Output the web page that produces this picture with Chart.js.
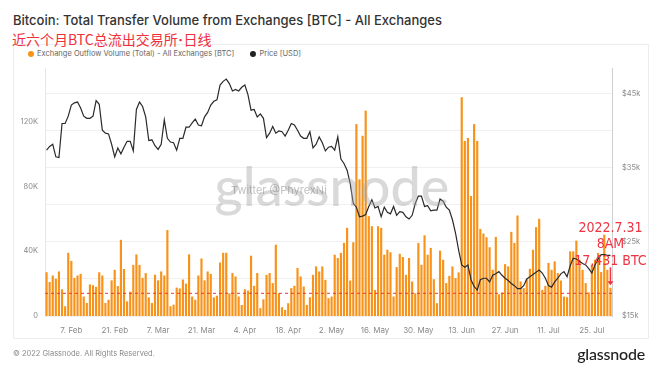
<!DOCTYPE html>
<html>
<head>
<meta charset="utf-8">
<script src="https://cdn.jsdelivr.net/npm/chart.js@4.4.0/dist/chart.umd.min.js"></script>
<style>
  html, body { margin:0; padding:0; background:#fff; }
  body { width:660px; height:372px; position:relative; overflow:hidden; font-family:Inter, Roboto, sans-serif; }
  #frame { position:absolute; left:13px; top:44px; width:634px; height:293px; border:1px solid #ededed; }
  #title { position:absolute; left:13px; top:12px; font-size:13px; font-weight:500; color:#333; white-space:nowrap; }
  #sub { position:absolute; left:12px; top:29px; font-family:'Noto Sans CJK SC', sans-serif; font-size:14px; color:#ee2f3c; white-space:nowrap; }
  #sub .dot { font-family:Inter, sans-serif; font-weight:700; margin:0 0.5px; }
  #legend { position:absolute; left:28px; top:49px; font-size:7.5px; color:#666; white-space:nowrap; }
  #legend span.dot { display:inline-block; width:6px; height:6px; border-radius:50%; margin-right:3px; vertical-align:-0.5px; }
  #legend .item { margin-right:14px; }
  #foot { position:absolute; left:13px; top:349px; font-size:7.5px; color:#8a8a8a; }
  #logo { position:absolute; right:15px; top:344px; font-family:Lato, Inter, sans-serif; font-size:16px; font-weight:500; color:#222; letter-spacing:-0.2px; }
  canvas { position:absolute; left:0; top:0; }
</style>
</head>
<body>
<div id="frame"></div>
<div id="title">Bitcoin: Total Transfer Volume from Exchanges [BTC] - All Exchanges</div>
<div id="sub">近六个月BTC总流出交易所<span class="dot">·</span>日线</div>
<div id="legend">
  <span class="item"><span class="dot" style="background:#f7931a"></span>Exchange Outflow Volume (Total) - All Exchanges [BTC]</span>
  <span class="item"><span class="dot" style="background:#222"></span>Price [USD]</span>
</div>
<canvas id="c" width="660" height="372"></canvas>
<div id="foot">© 2022 Glassnode. All Rights Reserved.</div>
<div id="logo">glassnode</div>
<script>
// ─── Data (daily, 30 Jan – 31 Jul 2022) ──────────────────────────────────────

// Exchange outflow volume, thousands of BTC
const outflowK = [
  27, 21, 25, 23, 27.5, 16.5, 6, 39, 34, 23.5, 25, 26, 12, 8, 19.5, 19, 18, 27, 25, 8,
  10, 22, 28.5, 18.5, 47, 29, 9, 15, 31.5, 38, 31.5, 23.5, 26.5, 11.5, 8, 25.5, 22, 27.5, 25, 53,
  6, 7, 17.5, 17, 22.5, 20, 38, 12, 10, 25, 35.5, 22, 27.5, 26, 11.5, 12.5, 33, 39, 39, 14,
  26.5, 24.4, 12, 6.8, 16.5, 15.7, 37.2, 18.6, 26.5, 4.8, 10.3, 25.4, 26.5, 20.3, 44, 14, 5.4, 3.7, 7.9, 17.2,
  18.6, 29.6, 24.4, 18.2, 6.8, 11.6, 25.4, 30.6, 27.5, 30.6, 22.3, 11, 12, 37.8, 35.8, 38.9, 45.1, 54.4, 21.9, 45.5,
  118.4, 84.3, 111.2, 126.7, 61.6, 55.4, 16.1, 55.4, 54.4, 37.8, 40.9, 39.3, 12, 30.2, 38.4, 36.4, 25.4, 35.8, 21.3, 14,
  45.1, 31.6, 49.8, 37.8, 42, 22.7, 7.9, 40.3, 34.7, 20.3, 24.8, 30.6, 23.4, 26.9, 135, 108, 109.8, 74, 118.4, 108,
  53.7, 50.9, 48.6, 42.4, 28.5, 48.8, 13.4, 14.5, 32, 30.6, 51.9, 45.1, 62, 21.3, 17.2, 22.7, 29.1, 40.9, 54.8, 60,
  16.1, 18.6, 32.7, 28.5, 33.7, 26.5, 21.9, 12, 11.6, 39.9, 39.9, 46.5, 34.7, 28.5, 20.3, 14.5, 31.6, 34.7, 38.9, 27.1,
  50.2, 28.5, 17.4
];

// BTC price, thousands of USD
const priceK = [
  37.4, 37.9, 38.2, 36.5, 36.4, 41.0, 41.0, 42.0, 43.5, 43.8, 43.9, 43.1, 42.0, 41.7, 41.7, 42.0, 44.1, 43.6, 40.1, 39.7,
  39.6, 38.2, 36.5, 37.7, 36.9, 37.8, 38.6, 38.6, 37.3, 42.9, 43.9, 43.3, 41.9, 38.7, 38.8, 38.0, 37.5, 38.2, 41.5, 39.0,
  38.5, 38.4, 37.4, 39.0, 39.0, 40.5, 40.5, 41.1, 41.6, 40.8, 40.7, 41.9, 42.5, 43.5, 44.0, 44.2, 46.2, 46.7, 47.0, 46.4,
  45.4, 45.6, 45.4, 45.9, 46.2, 44.9, 42.8, 42.9, 41.9, 42.3, 41.7, 39.1, 39.7, 40.6, 39.7, 40.0, 39.9, 39.3, 40.1, 41.0,
  40.8, 40.1, 39.3, 39.0, 39.0, 39.9, 37.7, 38.2, 39.2, 38.4, 37.3, 37.8, 37.9, 37.4, 39.2, 36.2, 35.6, 34.7, 32.9, 30.2,
  29.7, 28.4, 28.5, 28.7, 29.8, 30.7, 29.6, 29.8, 28.4, 29.7, 29.0, 28.8, 29.8, 28.6, 29.1, 29.0, 28.4, 28.1, 28.6, 30.2,
  31.2, 31.2, 29.8, 29.9, 29.2, 29.3, 29.3, 30.8, 30.5, 29.7, 29.3, 28.0, 26.2, 23.9, 21.9, 21.6, 21.9, 19.9, 19.0, 18.5,
  19.9, 20.1, 20.1, 19.6, 20.5, 20.7, 21.0, 20.5, 20.1, 19.8, 19.4, 19.1, 18.7, 18.7, 19.1, 20.0, 20.3, 20.6, 20.9, 21.2,
  20.8, 20.1, 19.1, 18.9, 19.6, 20.1, 20.7, 21.0, 20.3, 21.8, 22.8, 22.7, 22.4, 22.1, 21.9, 21.4, 20.8, 21.9, 22.7, 23.3,
  23.3, 23.2, 23.2
];

const xTickLabels  = ['7. Feb','21. Feb','7. Mar','21. Mar','4. Apr','18. Apr','2. May','16. May','30. May','13. Jun','27. Jun','11. Jul','25. Jul'];
const leftTicks    = [0, 40, 80, 120];
const rightGrid    = [15, 20, 25, 30, 35, 40, 45];
const rightLabels  = [15, 25, 35, 45];

const refLineK     = 14;          // red dashed reference level
const noteLines    = ['2022.7.31', '8AM', '17,431 BTC'];
const arrowFromK   = 30;
const arrowToK     = 19;

// day labels, "7. Feb" style
const MON = ['Jan','Feb','Mar','Apr','May','Jun','Jul','Aug','Sep','Oct','Nov','Dec'];
const days = [];
for (let i = 0; i < outflowK.length; i++) {
  const d = new Date(Date.UTC(2022, 0, 30 + i));
  days.push(d.getUTCDate() + '. ' + MON[d.getUTCMonth()]);
}

const ORANGE = '#f7931a';
const RED    = '#ee3342';
const TICK   = { size: 7.5, family: "Inter, Roboto, sans-serif" };

const overlays = {
  id: 'overlays',
  afterDatasetsDraw(chart) {
    const { ctx, chartArea: a, scales } = chart;
    // watermark
    ctx.save();
    ctx.fillStyle = 'rgba(165,165,165,0.42)';
    ctx.font = '500 54px Lato, Inter, sans-serif';
    ctx.textAlign = 'center';
    ctx.textBaseline = 'alphabetic';
    ctx.fillText('glassnode', 332, 206);
    ctx.font = '11px Inter, Roboto, sans-serif';
    ctx.fillStyle = 'rgba(120,120,120,0.45)';
    ctx.textAlign = 'left';
    ctx.fillText('Twitter @PhyrexNi', 231, 194);
    ctx.restore();

    // dashed reference line
    const yRef = scales.y.getPixelForValue(refLineK);
    ctx.save();
    ctx.strokeStyle = RED;
    ctx.lineWidth = 1;
    ctx.setLineDash([3, 3]);
    ctx.beginPath();
    ctx.moveTo(a.left, yRef);
    ctx.lineTo(a.right, yRef);
    ctx.stroke();
    ctx.restore();

    // arrow + note on the last day
    const last = outflowK.length - 1;
    const xl = scales.x.getPixelForValue(last);
    const y0 = scales.y.getPixelForValue(arrowFromK);
    const y1 = scales.y.getPixelForValue(arrowToK);
    ctx.save();
    ctx.strokeStyle = RED;
    ctx.fillStyle = RED;
    ctx.lineWidth = 1.5;
    ctx.beginPath();
    ctx.moveTo(xl, y0);
    ctx.lineTo(xl, y1 - 3);
    ctx.stroke();
    ctx.beginPath();
    ctx.moveTo(xl - 3, y1 - 4);
    ctx.lineTo(xl + 3, y1 - 4);
    ctx.lineTo(xl, y1);
    ctx.closePath();
    ctx.fill();

    ctx.font = "14px 'Liberation Sans Narrow', 'DejaVu Sans Condensed', sans-serif";
    ctx.textAlign = 'center';
    ctx.textBaseline = 'middle';
    const ys = [228, 244, 261];
    noteLines.forEach((t, i) => ctx.fillText(t, xl, ys[i]));
    ctx.restore();
  }
};

new Chart(document.getElementById('c'), {
  data: {
    labels: days,
    datasets: [
      {
        type: 'line', label: 'Price [USD]', data: priceK, yAxisID: 'y1',
        borderColor: '#2a2a2a', borderWidth: 1.2, pointRadius: 0, tension: 0, order: 0
      },
      {
        type: 'bar', label: 'Exchange Outflow Volume (Total) - All Exchanges [BTC]', data: outflowK, yAxisID: 'y',
        backgroundColor: ORANGE, barPercentage: 0.7, categoryPercentage: 1, order: 1
      }
    ]
  },
  options: {
    responsive: false,
    animation: false,
    devicePixelRatio: 1,
    layout: { padding: { top: 68, left: 0, right: 0, bottom: 0 } },
    plugins: { legend: { display: false }, tooltip: { enabled: false } },
    scales: {
      x: {
        type: 'category', offset: true,
        grid: { display: false, drawTicks: false }, border: { display: false },
        ticks: {
          autoSkip: false, maxRotation: 0, padding: 10, color: '#8a8a8a', font: { ...TICK, size: 8 },
          callback(v) { const l = this.getLabelForValue(v); return xTickLabels.includes(l) ? l : null; }
        },
        afterFit: s => { s.height = 56; }
      },
      y: {
        position: 'left', min: 0, max: 153,
        grid: { display: false, drawTicks: false },
        border: { color: '#fbe2cc' },
        afterBuildTicks: s => { s.ticks = leftTicks.map(v => ({ value: v })); },
        ticks: { padding: 7, color: '#8a8a8a', font: TICK, callback: v => v === 0 ? '0' : v + 'K' },
        afterFit: s => { s.width = 45; }
      },
      y1: {
        position: 'right', min: 15, max: 48.5,
        grid: { color: '#f0f0f0', drawTicks: false },
        border: { color: '#cfcfcf' },
        afterBuildTicks: s => { s.ticks = rightGrid.map(v => ({ value: v })); },
        ticks: { padding: 10, color: '#8a8a8a', font: TICK, callback: v => rightLabels.includes(v) ? '$' + v + 'k' : '' },
        afterFit: s => { s.width = 48; }
      }
    }
  },
  plugins: [overlays]
});
</script>
</body>
</html>
